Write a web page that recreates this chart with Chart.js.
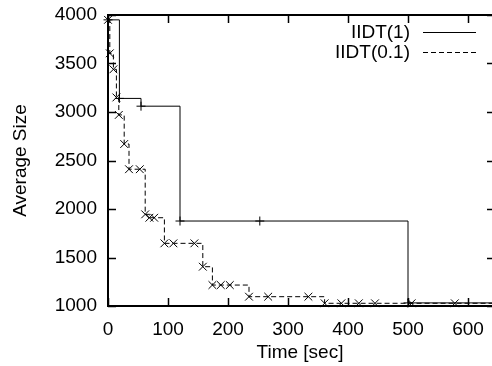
<!DOCTYPE html>
<html>
<head>
<meta charset="utf-8">
<script src="https://cdn.jsdelivr.net/npm/chart.js@4"></script>
<style>
  body { margin: 0; background: #fff; }
  #wrap { width: 492px; height: 366px; }
</style>
</head>
<body>
<div id="wrap"><canvas id="sizeChart" width="492" height="366"></canvas></div>
<script>
// IIDT(1) steps
const times1 = [0, 19, 55, 120, 253, 500, 640];
const sizes1 = [3950, 3140, 3060, 1876, 1876, 1032, 1032];
// IIDT(0.1) steps
const times2 = [0, 3, 9, 14, 18, 27, 35, 53, 62, 69, 77, 94, 109, 144, 158, 174, 188, 203,
                235, 267, 334, 361, 389, 418, 445, 506, 578, 640];
const sizes2 = [3950, 3605, 3440, 3150, 2970, 2670, 2410, 2410, 1945, 1910, 1910, 1646, 1646, 1646, 1405, 1216, 1216, 1216,
                1096, 1096, 1096, 1028, 1028, 1028, 1028, 1028, 1028, 1028];
const xTicks = [0, 100, 200, 300, 400, 500, 600];
const yTicks = [1000, 1500, 2000, 2500, 3000, 3500, 4000];
const seriesNames = ['IIDT(1)', 'IIDT(0.1)'];

const FONT = 'Liberation Sans, Arial, Helvetica, sans-serif';
const FSIZE = 19;

const toPoints = (xs, ys) => xs.map((x, i) => ({ x: x, y: ys[i] }));
// no marker on the closing point at the right edge
const markerSize = (n, r) => ctx => (ctx.dataIndex === n - 1 ? 0 : r);

// gnuplot style border with inward ticks; the right edge falls off the picture
const frame = {
    id: 'frame',
    afterDatasetsDraw(chart) {
        const ctx = chart.ctx;
        const a = chart.chartArea;
        const xs = chart.scales.x, ys = chart.scales.y;
        const len = 8;
        ctx.save();
        ctx.strokeStyle = '#000';
        ctx.lineWidth = 1.5;
        ctx.beginPath();
        xs.ticks.forEach(t => {
            const px = Math.round(xs.getPixelForValue(t.value)) + 0.5;
            ctx.moveTo(px, a.bottom); ctx.lineTo(px, a.bottom - len);
            ctx.moveTo(px, a.top); ctx.lineTo(px, a.top + len);
        });
        ys.ticks.forEach(t => {
            const py = Math.round(ys.getPixelForValue(t.value)) + 0.5;
            ctx.moveTo(a.left, py); ctx.lineTo(a.left + len, py);
            ctx.moveTo(a.right, py); ctx.lineTo(a.right - len + 3, py);
        });
        ctx.stroke();
        ctx.lineWidth = 2;
        ctx.beginPath();
        ctx.moveTo(a.right, a.top);
        ctx.lineTo(a.left, a.top);
        ctx.lineTo(a.left, a.bottom);
        ctx.lineTo(a.right, a.bottom);
        ctx.stroke();
        ctx.restore();
    }
};

// key in the top right corner, text left of the sample line
const key = {
    id: 'key',
    afterDraw(chart) {
        const ctx = chart.ctx;
        ctx.save();
        ctx.font = FSIZE + 'px ' + FONT;
        ctx.textAlign = 'right';
        ctx.textBaseline = 'middle';
        chart.data.datasets.forEach((ds, i) => {
            const y = 32 + i * 19.5;
            ctx.fillStyle = '#000';
            ctx.fillText(ds.label, 410, y + 1);
            ctx.strokeStyle = ds.borderColor;
            ctx.lineWidth = 1;
            ctx.setLineDash(ds.borderDash || []);
            ctx.beginPath();
            ctx.moveTo(423, Math.round(y) + 0.5);
            ctx.lineTo(476, Math.round(y) + 0.5);
            ctx.stroke();
        });
        ctx.restore();
    }
};

const ctxSize = document.getElementById('sizeChart').getContext('2d');
const sizeChart = new Chart(ctxSize, {
    type: 'line',
    data: {
        datasets: [{
            label: seriesNames[0],
            data: toPoints(times1, sizes1),
            stepped: 'before',
            borderColor: '#000',
            borderWidth: 1,
            pointStyle: 'cross',
            pointRadius: markerSize(times1.length, 4.5),
            pointBorderColor: '#000',
            pointBorderWidth: 1,
            clip: false
        }, {
            label: seriesNames[1],
            data: toPoints(times2, sizes2),
            stepped: 'before',
            borderColor: '#000',
            borderWidth: 1,
            borderDash: [5, 3],
            pointStyle: 'crossRot',
            pointRadius: markerSize(times2.length, 5.5),
            pointBorderColor: '#000',
            pointBorderWidth: 1,
            clip: false
        }]
    },
    options: {
        responsive: false,
        animation: false,
        layout: { autoPadding: false, padding: { top: 15, right: 0, left: 0, bottom: 0 } },
        plugins: { legend: { display: false }, tooltip: { enabled: false } },
        scales: {
            x: {
                type: 'linear',
                min: 0,
                max: 640,
                afterBuildTicks: s => { s.ticks = xTicks.map(v => ({ value: v })); },
                afterFit: s => { s.height = 60; s.paddingLeft = 0; s.paddingRight = 0; },
                grid: { display: false, drawTicks: false },
                border: { display: false },
                ticks: { color: '#000', font: { family: FONT, size: FSIZE }, padding: 12, maxRotation: 0,
                         callback: v => String(v) },
                title: { display: true, text: 'Time [sec]', color: '#000', font: { family: FONT, size: FSIZE }, padding: { top: 0, bottom: 2 } }
            },
            y: {
                type: 'linear',
                min: 1000,
                max: 4000,
                afterBuildTicks: s => { s.ticks = yTicks.map(v => ({ value: v })); },
                afterFit: s => { s.width = 108; s.paddingTop = 0; s.paddingBottom = 0; },
                grid: { display: false, drawTicks: false },
                border: { display: false },
                ticks: { color: '#000', font: { family: FONT, size: FSIZE }, padding: 11,
                         callback: v => String(v) },
                title: { display: true, text: 'Average Size', color: '#000', font: { family: FONT, size: FSIZE }, padding: { top: 9, bottom: 0 } }
            }
        }
    },
    plugins: [frame, key]
});
</script>
</body>
</html>
